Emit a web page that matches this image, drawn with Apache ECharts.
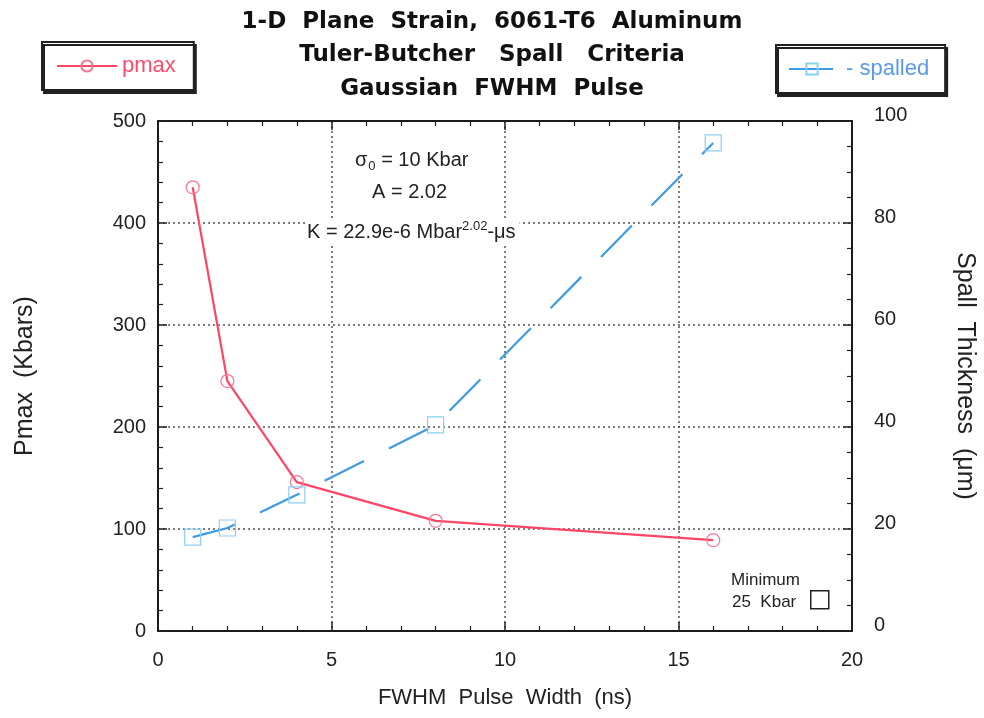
<!DOCTYPE html>
<html>
<head>
<meta charset="utf-8">
<script src="https://cdn.jsdelivr.net/npm/echarts@6/dist/echarts.min.js"></script>
<style>html,body{margin:0;padding:0;background:#fff;}#c{width:984px;height:718px;}</style>
</head>
<body>
<div id="c"></div>
<script>
var pulseWidth = [1, 2, 4, 8, 16];
var pmax = [435, 245, 146, 108, 89];
var spalled = [18.4, 20.2, 26.7, 40.4, 95.7];
var xTicks = [0, 5, 10, 15, 20];
var leftTicks = [0, 100, 200, 300, 400, 500];
var rightTicks = [0, 20, 40, 60, 80, 100];

var FONT = 'Liberation Sans, Arial, Helvetica, sans-serif';
var TFONT = 'DejaVu Sans, Liberation Sans, sans-serif';
var chart = echarts.init(document.getElementById('c'), null, {renderer: 'canvas'});

function pairs(xs, ys) { return xs.map(function (x, i) { return [x, ys[i]]; }); }

function tickCommon() { return {show: true, inside: true, length: 9, lineStyle: {color: '#222', width: 1.5}}; }
function minorCommon(n) { return {show: true, splitNumber: n, length: 5, lineStyle: {color: '#222', width: 1.2}}; }
function lineCommon() { return {show: true, onZero: false, lineStyle: {color: '#1a1a1a', width: 2}}; }
function gridLine() { return {show: true, lineStyle: {color: '#555', width: 1.5, type: [2, 3]}}; }

var option = {
  backgroundColor: '#fff',
  animation: false,
  title: {
    text: '1-D  Plane  Strain,  6061-T6  Aluminum\nTuler-Butcher   Spall   Criteria\nGaussian  FWHM  Pulse',
    left: 'center', top: 0,
    textStyle: {fontFamily: TFONT, fontWeight: 'bold', fontSize: 23, lineHeight: 33.5, color: '#111'}
  },
  legend: [
    {
      data: ['pmax'], left: 42, top: 42,
      padding: [13, 18, 13, 14], itemGap: 5,
      backgroundColor: '#fff', borderColor: '#222', borderWidth: 2,
      shadowColor: '#222', shadowOffsetX: 2, shadowOffsetY: 3, shadowBlur: 0,
      itemWidth: 60, itemHeight: 14,
      textStyle: {fontFamily: FONT, fontSize: 22, color: '#ff4a6a'}
    },
    {
      data: ['-spalled'], left: 776, top: 45,
      padding: [13, 16, 13, 12],
      backgroundColor: '#fff', borderColor: '#222', borderWidth: 2,
      shadowColor: '#222', shadowOffsetX: 2, shadowOffsetY: 3, shadowBlur: 0,
      itemWidth: 46, itemHeight: 14,
      formatter: function (n) { return n.replace('-', '- '); },
      textStyle: {fontFamily: FONT, fontSize: 22, color: '#5a9be8', padding: [0, 0, 0, 6]}
    }
  ],
  grid: {left: 158, top: 121, width: 694, height: 510, containLabel: false, outerBoundsMode: 'none'},
  xAxis: [
    {
      type: 'value', min: xTicks[0], max: xTicks[xTicks.length - 1], interval: 5, position: 'bottom',
      name: 'FWHM  Pulse  Width  (ns)', nameLocation: 'middle', nameGap: 56,
      nameTextStyle: {fontFamily: FONT, fontSize: 22, color: '#222'},
      axisLine: lineCommon(), axisTick: tickCommon(), minorTick: minorCommon(5),
      axisLabel: {fontFamily: FONT, fontSize: 20, color: '#222', margin: 19},
      splitLine: gridLine()
    },
    {
      type: 'value', min: xTicks[0], max: xTicks[xTicks.length - 1], interval: 5, position: 'top',
      axisLine: lineCommon(), axisTick: tickCommon(), minorTick: minorCommon(5),
      axisLabel: {show: false}, splitLine: {show: false}
    }
  ],
  yAxis: [
    {
      type: 'value', min: leftTicks[0], max: leftTicks[leftTicks.length - 1], interval: 100, position: 'left',
      name: 'Pmax  (Kbars)', nameLocation: 'middle', nameGap: 120,
      nameTextStyle: {fontFamily: FONT, fontSize: 25, color: '#222'},
      axisLine: lineCommon(), axisTick: tickCommon(), minorTick: minorCommon(5),
      axisLabel: {fontFamily: FONT, fontSize: 20, color: '#222', margin: 12},
      splitLine: gridLine()
    },
    {
      type: 'value', min: rightTicks[0], max: rightTicks[rightTicks.length - 1], interval: 20, position: 'right',
      name: 'Spall  Thickness  (\u03bcm)', nameLocation: 'middle', nameGap: 100, nameRotate: -90,
      nameTextStyle: {fontFamily: FONT, fontSize: 25, color: '#222'},
      axisLine: lineCommon(), axisTick: tickCommon(), minorTick: minorCommon(4),
      axisLabel: {fontFamily: FONT, fontSize: 20, color: '#222', margin: 22, verticalAlign: 'bottom', lineHeight: 12},
      splitLine: {show: false}
    }
  ],
  series: [
    {
      name: 'pmax', type: 'line', xAxisIndex: 0, yAxisIndex: 0,
      data: pairs(pulseWidth, pmax),
      symbol: 'circle', symbolSize: 13, showSymbol: true,
      lineStyle: {color: '#ff4565', width: 2.2},
      itemStyle: {color: 'rgba(255,255,255,0)', borderColor: '#ff7590', borderWidth: 1.2},
      z: 3
    },
    {
      name: '-spalled', type: 'line', xAxisIndex: 0, yAxisIndex: 1,
      data: pairs(pulseWidth, spalled),
      symbol: 'rect', symbolSize: 16, showSymbol: true,
      lineStyle: {color: '#3d9be6', width: 2.2, type: [44, 28]},
      itemStyle: {color: 'rgba(255,255,255,0)', borderColor: '#8ad0f2', borderWidth: 1.2},
      z: 4
    }
  ],
  graphic: [
    {
      type: 'text', left: 355, top: 150,
      style: {
        text: '{a|\u03c3}{s|0}{a| = 10 Kbar}',
        rich: {
          a: {fontFamily: FONT, fontSize: 20, fill: '#222', color: '#222'},
          s: {fontFamily: FONT, fontSize: 13, fill: '#222', color: '#222', padding: [12, 0, 0, 1]}
        }
      }
    },
    {
      type: 'text', left: 372, top: 182,
      style: {text: 'A = 2.02', font: '20px ' + FONT, fill: '#222'}
    },
    {
      type: 'text', left: 305, top: 220, z: 10,
      style: {
        text: '{a|K = 22.9e-6 Mbar}{p|2.02}{a|-\u03bcs}',
        backgroundColor: '#fff', padding: [0, 4, 0, 2],
        rich: {
          a: {fontFamily: FONT, fontSize: 20, fill: '#222', color: '#222'},
          p: {fontFamily: FONT, fontSize: 13, fill: '#222', color: '#222', padding: [0, 0, 12, 0]}
        }
      }
    },
    {
      type: 'text', left: 731, top: 572,
      style: {text: 'Minimum', font: '17px ' + FONT, fill: '#222'}
    },
    {
      type: 'text', left: 732, top: 594,
      style: {text: '25  Kbar', font: '17px ' + FONT, fill: '#222'}
    },
    {
      type: 'rect', left: 810, top: 590,
      shape: {width: 18, height: 18},
      style: {fill: '#fff', stroke: '#222', lineWidth: 1.5}
    }
  ]
};
chart.setOption(option);
</script>
</body>
</html>
